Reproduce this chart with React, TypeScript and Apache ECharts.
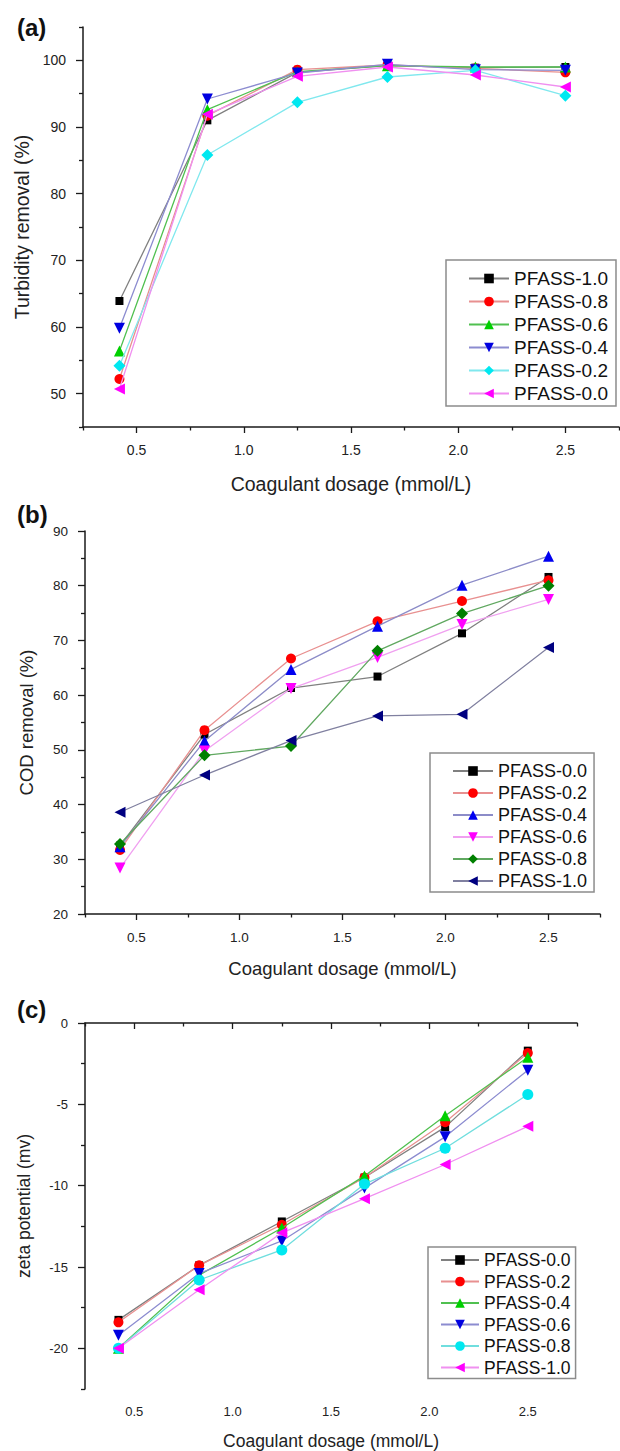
import React, { useEffect, useRef } from 'react';
import * as echarts from 'echarts';

// ---------- data ----------
const dosage = [0.42, 0.83, 1.25, 1.67, 2.08, 2.5];
const xMajorTicks = [0.5, 1.0, 1.5, 2.0, 2.5];
const xMinorTicks = [0.25, 0.75, 1.25, 1.75, 2.25, 2.75];

// (a) Turbidity removal (%)
const turbNames = ['PFASS-1.0', 'PFASS-0.8', 'PFASS-0.6', 'PFASS-0.4', 'PFASS-0.2', 'PFASS-0.0'];
const turb10 = [63.9, 91.0, 98.2, 99.2, 98.9, 99.0];
const turb08 = [52.2, 91.7, 98.6, 99.3, 98.8, 98.2];
const turb06 = [56.4, 92.6, 98.3, 99.2, 99.0, 99.0];
const turb04 = [59.8, 94.2, 98.1, 99.4, 98.6, 98.5];
const turb02 = [54.2, 85.8, 93.7, 97.5, 98.5, 94.7];
const turb00 = [50.7, 91.9, 97.6, 99.0, 97.8, 96.0];
const turbYMajor = [50, 60, 70, 80, 90, 100];
const turbYMinor = [45, 55, 65, 75, 85, 95, 105];

// (b) COD removal (%)
const codNames = ['PFASS-0.0', 'PFASS-0.2', 'PFASS-0.4', 'PFASS-0.6', 'PFASS-0.8', 'PFASS-1.0'];
const cod00 = [32.5, 52.8, 61.3, 63.4, 71.3, 81.6];
const cod02 = [31.7, 53.6, 66.7, 73.5, 77.2, 81.0];
const cod04 = [32.3, 51.6, 64.7, 72.6, 80.1, 85.4];
const cod06 = [28.4, 49.8, 61.2, 66.9, 72.9, 77.5];
const cod08 = [32.8, 49.0, 50.7, 68.1, 74.9, 80.0];
const cod10 = [38.6, 45.4, 51.7, 56.2, 56.5, 68.7];
const codYMajor = [20, 30, 40, 50, 60, 70, 80, 90];
const codYMinor = [25, 35, 45, 55, 65, 75, 85];

// (c) zeta potential (mv)
const zetaNames = ['PFASS-0.0', 'PFASS-0.2', 'PFASS-0.4', 'PFASS-0.6', 'PFASS-0.8', 'PFASS-1.0'];
const zeta00 = [-18.25, -14.9, -12.2, -9.5, -6.4, -1.7];
const zeta02 = [-18.4, -14.9, -12.4, -9.5, -6.1, -1.85];
const zeta04 = [-20.0, -15.5, -12.6, -9.4, -5.7, -2.1];
const zeta06 = [-19.2, -15.4, -13.4, -10.15, -7.0, -2.9];
const zeta08 = [-20.0, -15.8, -13.95, -9.9, -7.7, -4.4];
const zeta10 = [-20.0, -16.4, -12.9, -10.8, -8.7, -6.35];
const zetaYMajor = [-20, -15, -10, -5, 0];
const zetaYMinor = [-22.5, -17.5, -12.5, -7.5, -2.5];

// ---------- styles ----------
const SQUARE = 'rect';
const CIRCLE = 'circle';
const UP = 'triangle';
const DOWN = 'path://M0,0L10,0L5,9Z';
const LEFT = 'path://M9,0L9,10L0,5Z';
const DIAMOND = 'diamond';

type Sty = { symbol: string; size: number; color: string; line: string };
const BLACK: Sty = { symbol: SQUARE, size: 8, color: '#000000', line: '#808080' };
const RED: Sty = { symbol: CIRCLE, size: 10, color: '#ff0000', line: '#e89090' };
const GREEN_UP: Sty = { symbol: UP, size: 11, color: '#00d000', line: '#50c050' };
const BLUE_DOWN: Sty = { symbol: DOWN, size: 11, color: '#0000e0', line: '#8c8cd0' };
const BLUE_UP: Sty = { symbol: UP, size: 11, color: '#0000f0', line: '#8c8cc8' };
const CYAN_DIA: Sty = { symbol: DIAMOND, size: 12, color: '#00e8f0', line: '#80e8ee' };
const CYAN_CIR: Sty = { symbol: CIRCLE, size: 11, color: '#00e8f0', line: '#70dede' };
const MAG_LEFT: Sty = { symbol: LEFT, size: 11, color: '#ff00ff', line: '#f090f0' };
const MAG_DOWN: Sty = { symbol: DOWN, size: 11, color: '#ff00ff', line: '#f0a0f0' };
const DKGREEN_DIA: Sty = { symbol: DIAMOND, size: 12, color: '#008000', line: '#60a860' };
const NAVY_LEFT: Sty = { symbol: LEFT, size: 11, color: '#000080', line: '#8080a0' };

const FONT = 'Liberation Sans, Arial, sans-serif';

type PanelCfg = {
  key: string;
  names: string[];
  values: number[][];
  styles: Sty[];
  grid: { left: number; top: number; width: number; height: number };
  yMin: number; yMax: number; yStep: number;
  yMajor: number[]; yMinor: number[];
  yName: string; yNameGap: number;
  xNameGap: number;
  tickFont: number; nameFont: number;
  legend: { left: number; top: number; font: number; gap: number; padding: number[]; itemWidth: number };
};

const panels: PanelCfg[] = [
  {
    key: 'a', names: turbNames,
    values: [turb10, turb08, turb06, turb04, turb02, turb00],
    styles: [BLACK, RED, GREEN_UP, BLUE_DOWN, CYAN_DIA, MAG_LEFT],
    grid: { left: 83, top: 27, width: 536, height: 400 },
    yMin: 45, yMax: 105, yStep: 5, yMajor: turbYMajor, yMinor: turbYMinor,
    yName: 'Turbidity removal (%)', yNameGap: 50, xNameGap: 47,
    tickFont: 14, nameFont: 19.5,
    legend: { left: 446, top: 260, font: 19, gap: 4, padding: [9, 8, 3, 22], itemWidth: 40 },
  },
  {
    key: 'b', names: codNames,
    values: [cod00, cod02, cod04, cod06, cod08, cod10],
    styles: [BLACK, RED, BLUE_UP, MAG_DOWN, DKGREEN_DIA, NAVY_LEFT],
    grid: { left: 85, top: 531, width: 515, height: 383 },
    yMin: 20, yMax: 90, yStep: 5, yMajor: codYMajor, yMinor: codYMinor,
    yName: 'COD removal (%)', yNameGap: 49, xNameGap: 45,
    tickFont: 13.5, nameFont: 18.5,
    legend: { left: 430, top: 753, font: 18, gap: 4, padding: [9, 7, 2, 22], itemWidth: 40 },
  },
  {
    key: 'c', names: zetaNames,
    values: [zeta00, zeta02, zeta04, zeta06, zeta08, zeta10],
    styles: [BLACK, RED, GREEN_UP, BLUE_DOWN, CYAN_CIR, MAG_LEFT],
    grid: { left: 85, top: 1023, width: 492, height: 366 },
    yMin: -22.5, yMax: 0, yStep: 2.5, yMajor: zetaYMajor, yMinor: zetaYMinor,
    yName: 'zeta potential (mv)', yNameGap: 52, xNameGap: 43,
    tickFont: 13, nameFont: 17.5,
    legend: { left: 428, top: 1247, font: 17.5, gap: 3.5, padding: [4, 5, 2, 12], itemWidth: 38 },
  },
];

const panelLabels = [
  { text: '(a)', x: 17, y: 15 },
  { text: '(b)', x: 17, y: 502 },
  { text: '(c)', x: 17, y: 997 },
];

function buildOption() {
  const grids: any[] = [];
  const xAxes: any[] = [];
  const yAxes: any[] = [];
  const series: any[] = [];
  const legends: any[] = [];
  const axisColor = '#1a1a1a';

  panels.forEach((p, i) => {
    grids.push({ ...p.grid, containLabel: false });
    const xBase = {
      type: 'value', gridIndex: i, min: 0.25, max: 2.75, interval: 0.25,
      position: 'bottom', offset: 0,
      splitLine: { show: false },
    };
    xAxes.push({
      ...xBase,
      axisLine: { show: true, lineStyle: { color: axisColor, width: 1.5 } },
      axisTick: { show: true, length: 6, customValues: xMajorTicks, lineStyle: { color: axisColor, width: 1.3 } },
      axisLabel: {
        show: true, customValues: xMajorTicks, margin: 16, fontSize: p.tickFont, fontFamily: FONT, color: '#222',
        formatter: (v: number) => v.toFixed(1),
      },
      name: 'Coagulant dosage (mmol/L)', nameLocation: 'middle', nameGap: p.xNameGap,
      nameTextStyle: { fontSize: p.nameFont, fontFamily: FONT, color: '#222' },
    });
    xAxes.push({
      ...xBase,
      axisLine: { show: false },
      axisTick: { show: true, length: 3.5, customValues: xMinorTicks, lineStyle: { color: axisColor, width: 1.3 } },
      axisLabel: { show: false },
    });
    const yBase = {
      type: 'value', gridIndex: i, min: p.yMin, max: p.yMax, interval: p.yStep,
      position: 'left', offset: 0,
      splitLine: { show: false },
    };
    yAxes.push({
      ...yBase,
      axisLine: { show: true, lineStyle: { color: axisColor, width: 1.5 } },
      axisTick: { show: true, length: 7, customValues: p.yMajor, lineStyle: { color: axisColor, width: 1.3 } },
      axisLabel: {
        show: true, customValues: p.yMajor, margin: 17, fontSize: p.tickFont, fontFamily: FONT, color: '#222',
        formatter: (v: number) => String(v),
      },
      name: p.yName, nameLocation: 'middle', nameGap: p.yNameGap,
      nameTextStyle: { fontSize: p.nameFont, fontFamily: FONT, color: '#222' },
    });
    yAxes.push({
      ...yBase,
      axisLine: { show: false },
      axisTick: { show: true, length: 4, customValues: p.yMinor, lineStyle: { color: axisColor, width: 1.3 } },
      axisLabel: { show: false },
    });

    const seriesNames: string[] = [];
    p.names.forEach((n, k) => {
      const st = p.styles[k];
      const sName = p.key + '|' + n;
      seriesNames.push(sName);
      series.push({
        type: 'line', name: sName,
        xAxisIndex: 2 * i, yAxisIndex: 2 * i,
        data: dosage.map((x, j) => [x, p.values[k][j]]),
        symbol: st.symbol, symbolSize: st.size, showSymbol: true,
        itemStyle: { color: st.color, borderWidth: 0 },
        lineStyle: { color: st.line, width: 1.3 },
        z: 2 + k,
        emphasis: { disabled: true },
      });
    });

    legends.push({
      data: seriesNames,
      orient: 'vertical',
      left: p.legend.left, top: p.legend.top,
      itemWidth: p.legend.itemWidth, itemHeight: 12,
      itemGap: p.legend.gap,
      padding: p.legend.padding,
      borderColor: '#8c8c8c', borderWidth: 1.5,
      backgroundColor: '#ffffff',
      selectedMode: false,
      formatter: (n: string) => n.split('|')[1],
      textStyle: { fontSize: p.legend.font, fontFamily: FONT, color: '#111', lineHeight: p.legend.font },
    });
  });

  return {
    animation: false,
    backgroundColor: '#ffffff',
    grid: grids,
    xAxis: xAxes,
    yAxis: yAxes,
    series,
    legend: legends,
    graphic: panelLabels.map((l) => ({
      type: 'text', left: l.x, top: l.y,
      style: { text: l.text, fontSize: 24, fontWeight: 'bold', fontFamily: FONT, fill: '#111' },
    })),
  };
}

export default function App() {
  const ref = useRef<HTMLDivElement>(null);
  useEffect(() => {
    if (!ref.current) return;
    const chart = echarts.init(ref.current, undefined, { renderer: 'svg' });
    chart.setOption(buildOption() as any);
    return () => chart.dispose();
  }, []);
  return (
    <div
      ref={ref}
      style={{ position: 'absolute', left: 0, top: 0, width: 620, height: 1451, background: '#fff' }}
    />
  );
}
